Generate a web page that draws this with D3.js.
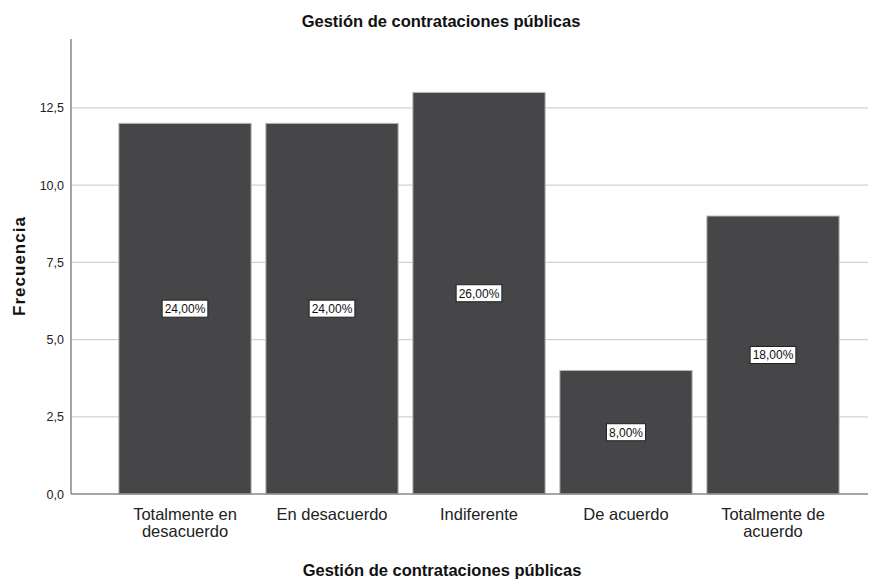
<!DOCTYPE html>
<html><head><meta charset="utf-8">
<script src="https://cdn.jsdelivr.net/npm/d3@7"></script>
<style>body{margin:0;background:#fff}svg{display:block}text{font-family:"Liberation Sans",Arial,sans-serif}</style>
</head><body>
<svg id="c" width="873" height="581"></svg>
<script>
const categories = [["Totalmente en","desacuerdo"],["En desacuerdo"],["Indiferente"],["De acuerdo"],["Totalmente de","acuerdo"]];
const frequencies = [12,12,13,4,9];
const percentLabels = ["24,00%","24,00%","26,00%","8,00%","18,00%"];
const yTicks = [0,2.5,5,7.5,10,12.5];
const title = "Gestión de contrataciones públicas";
const xTitle = "Gestión de contrataciones públicas";
const yTitle = "Frecuencia";

(function(){
const svg = d3.select("#c");
const mLeft = 71, mRight = 868, mTop = 39, mBottom = 494;
const y = d3.scaleLinear().domain([0,14.73]).range([mBottom, mTop]);
const x = d3.scaleBand().domain(d3.range(categories.length)).range([111.5,846.5]).paddingInner(0.1).paddingOuter(0.05);
const fmt = v => d3.format(".1f")(v).replace(".", ",");

svg.append("g").selectAll("line").data(yTicks.filter(d=>d>0)).join("line")
  .attr("x1",mLeft).attr("x2",mRight).attr("y1",d=>y(d)).attr("y2",d=>y(d))
  .attr("stroke","#d2d2d2").attr("stroke-width",1.2);

svg.append("g").selectAll("rect").data(frequencies).join("rect")
  .attr("x",(d,i)=>x(i)).attr("width",x.bandwidth())
  .attr("y",d=>y(d)).attr("height",d=>mBottom-y(d))
  .attr("fill","#464648").attr("stroke","#bdbdbd").attr("stroke-width",1);

const ya = svg.append("g").attr("transform",`translate(${mLeft},0)`)
  .call(d3.axisLeft(y).tickValues(yTicks).tickFormat(fmt).tickSize(0).tickPadding(7));
ya.select(".domain").remove();
ya.selectAll("text").attr("font-size",12.5).attr("fill","#222").attr("font-family","Liberation Sans, Arial, sans-serif");
svg.append("line").attr("x1",mLeft).attr("x2",mLeft).attr("y1",mTop).attr("y2",mBottom).attr("stroke","#888").attr("stroke-width",1.5);
svg.append("line").attr("x1",mLeft).attr("x2",mRight).attr("y1",mBottom).attr("y2",mBottom).attr("stroke","#888").attr("stroke-width",1.5);

const cl = svg.append("g").selectAll("text").data(categories).join("text")
  .attr("x",(d,i)=>x(i)+x.bandwidth()/2).attr("y",520)
  .attr("text-anchor","middle").attr("font-size",16.5).attr("fill","#222");
cl.each(function(d){
  const t=d3.select(this);
  d.forEach((s,k)=>t.append("tspan").attr("x",t.attr("x")).attr("dy",k===0?0:17).text(s));
});

const pl = svg.append("g").selectAll("g").data(frequencies).join("g")
  .attr("transform",(d,i)=>`translate(${x(i)+x.bandwidth()/2},${y(d/2)})`);
pl.each(function(d,i){
  const g=d3.select(this);
  const t=g.append("text").attr("text-anchor","middle").attr("dy",4.5).attr("font-size",12).attr("fill","#111")
    .text(percentLabels[i]);
  const w=t.node().getComputedTextLength()+5;
  g.insert("rect","text").attr("x",-w/2).attr("y",-8.5).attr("width",w).attr("height",17)
    .attr("fill","#fff").attr("stroke","#222").attr("stroke-width",1);
});

svg.append("text").attr("x",441).attr("y",27).attr("text-anchor","middle")
  .attr("font-size",16.5).attr("font-weight","bold").attr("fill","#111").text(title);
svg.append("text").attr("x",442).attr("y",576).attr("text-anchor","middle")
  .attr("font-size",16.5).attr("font-weight","bold").attr("fill","#111").text(xTitle);
svg.append("text").attr("transform","translate(25,266) rotate(-90)").attr("text-anchor","middle")
  .attr("font-size",17).attr("letter-spacing",1).attr("font-weight","bold").attr("fill","#111").text(yTitle);
})();
</script>
</body></html>
